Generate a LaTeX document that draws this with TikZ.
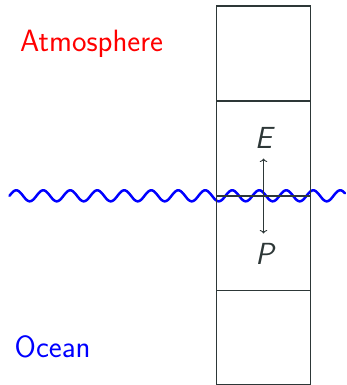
\documentclass[tikz,border=0pt]{standalone}
\usetikzlibrary{arrows.meta}
\definecolor{boxgrey}{RGB}{45,55,55}
\begin{document}
\begin{tikzpicture}[x=1pt,y=-1pt,
  boxline/.style={draw=boxgrey, line width=1.1pt},
  flux/.style={boxgrey, line width=0.9pt, -{To[length=3.5pt,width=7.5pt]}},
  label/.style={inner sep=0pt, font=\sffamily\fontsize{30.8}{36}\selectfont},
  sym/.style={inner sep=0pt, text=boxgrey, font=\sffamily\itshape\fontsize{30.5}{36}\selectfont}]
\useasboundingbox (0,0) rectangle (346,385);
% wavy interface
\draw[blue, line width=2.5pt, line cap=round]
  plot[domain=9.5:345, samples=400, smooth] (\x, {195.8 - 5.5*sin((\x-9.5)/27*360)});
% column
\coordinate (tl) at (216.5,6);
\coordinate (br) at (310.5,386);
\draw[boxline] (216.5,386) -- (tl) -- (310.5,6) -- (br);
\draw[boxline] (216.5,101) -- (310.5,101);
\draw[boxline] (216.5,196) -- (310.5,196);
\draw[boxline] (216.5,290.7) -- (310.5,290.7);
\draw[boxline] (216.5,384.5) -- (310.5,384.5);
% fluxes
\coordinate (mid) at (263.5,196);
\coordinate (up) at (263.5,158.5);
\coordinate (down) at (263.5,233.5);
\draw[flux] (mid) -- (up);
\draw[flux] (mid) -- (down);
\node[sym, anchor=base] (E) at (263.5,148) {E};
\node[sym, anchor=base] (P) at (264.5,264) {P};
% labels
\node[label, text=red, anchor=base west] (atm) at (20,51.7) {Atmosphere};
\node[label, text=blue, anchor=base west] (ocean) at (14.5,357.7) {Ocean};
\end{tikzpicture}
\end{document}
